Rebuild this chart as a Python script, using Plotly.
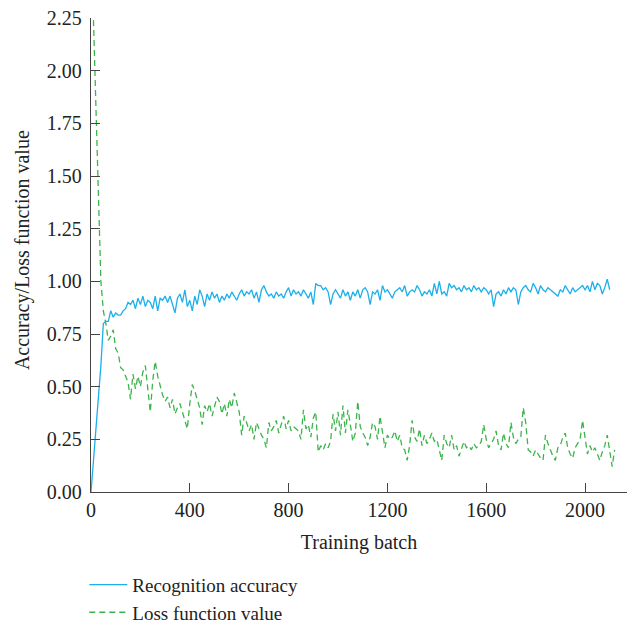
import plotly.graph_objects as go

# Training curves: recognition accuracy and loss, sampled every 10 batches
acc_batch = [0, 40] + list(range(50, 2101, 10))
acc_values = [
    0.00, 0.60,
    0.80, 0.81, 0.81, 0.86, 0.83, 0.85, 0.84, 0.84, 0.86, 0.87,
    0.90, 0.89, 0.91, 0.87, 0.92, 0.89, 0.93, 0.88, 0.91, 0.90,
    0.87, 0.93, 0.86, 0.92, 0.91, 0.93, 0.90, 0.93, 0.89, 0.85,
    0.92, 0.94, 0.90, 0.96, 0.88, 0.91, 0.86, 0.93, 0.89, 0.96,
    0.93, 0.88, 0.94, 0.91, 0.95, 0.92, 0.94, 0.90, 0.93, 0.91,
    0.94, 0.92, 0.95, 0.93, 0.91, 0.94, 0.96, 0.93, 0.95, 0.94,
    0.96, 0.92, 0.95, 0.90, 0.96, 0.98, 0.95, 0.93, 0.94, 0.92,
    0.95, 0.93, 0.94, 0.92, 0.95, 0.97, 0.93, 0.96, 0.94, 0.95,
    0.93, 0.96, 0.94, 0.92, 0.95, 0.89, 0.99, 0.98, 0.98, 0.96,
    0.97, 0.95, 0.89, 0.94, 0.96, 0.94, 0.92, 0.96, 0.93, 0.95,
    0.91, 0.95, 0.93, 0.96, 0.92, 0.96, 0.97, 0.95, 0.89, 0.95,
    0.94, 0.96, 0.91, 0.98, 0.95, 0.96, 0.94, 0.92, 0.95, 0.96,
    0.97, 0.95, 0.98, 0.93, 0.95, 0.96, 0.95, 0.98, 0.96, 0.93,
    0.95, 0.94, 0.96, 0.93, 0.99, 0.94, 1.00, 0.94, 0.95, 0.93,
    0.99, 0.97, 0.98, 0.96, 0.97, 0.95, 0.98, 0.96, 0.97, 0.95,
    0.98, 0.96, 0.97, 0.95, 0.97, 0.96, 0.94, 0.96, 0.88, 0.94,
    0.95, 0.93, 0.96, 0.94, 0.97, 0.95, 0.97, 0.96, 0.89, 0.95,
    0.97, 0.98, 0.96, 0.95, 0.99, 0.97, 0.94, 0.98, 0.96, 0.95,
    0.97, 0.96, 0.95, 0.94, 0.93, 0.96, 0.95, 0.98, 0.96, 0.94,
    0.97, 0.95, 0.96, 0.97, 0.98, 0.96, 0.98, 0.95, 1.00, 0.96,
    0.99, 0.98, 0.94, 0.97, 1.01, 0.96,
]

loss_batch = [10, 40] + list(range(50, 2121, 10))
loss_values = [
    2.24, 1.00,
    0.86, 0.80, 0.72, 0.74, 0.77, 0.68, 0.66, 0.59, 0.58, 0.55,
    0.52, 0.44, 0.56, 0.49, 0.55, 0.50, 0.57, 0.60, 0.48, 0.38,
    0.53, 0.62, 0.55, 0.50, 0.46, 0.43, 0.45, 0.40, 0.44, 0.37,
    0.40, 0.42, 0.38, 0.35, 0.30, 0.42, 0.51, 0.48, 0.44, 0.40,
    0.32, 0.41, 0.38, 0.42, 0.36, 0.40, 0.45, 0.43, 0.37, 0.42,
    0.36, 0.44, 0.40, 0.47, 0.42, 0.38, 0.27, 0.36, 0.33, 0.29,
    0.32, 0.25, 0.33, 0.30, 0.27, 0.25, 0.21, 0.33, 0.29, 0.31,
    0.34, 0.28, 0.32, 0.36, 0.30, 0.34, 0.29, 0.31, 0.30, 0.29,
    0.25, 0.39, 0.30, 0.32, 0.26, 0.35, 0.38, 0.19, 0.22, 0.20,
    0.23, 0.21, 0.24, 0.37, 0.29, 0.38, 0.27, 0.41, 0.28, 0.39,
    0.32, 0.24, 0.28, 0.43, 0.31, 0.28, 0.26, 0.22, 0.26, 0.33,
    0.31, 0.25, 0.36, 0.29, 0.21, 0.27, 0.25, 0.26, 0.29, 0.24,
    0.27, 0.21, 0.20, 0.15, 0.22, 0.34, 0.26, 0.24, 0.30, 0.22,
    0.27, 0.23, 0.25, 0.28, 0.24, 0.25, 0.20, 0.15, 0.27, 0.23,
    0.21, 0.27, 0.20, 0.22, 0.17, 0.21, 0.24, 0.21, 0.22, 0.20,
    0.23, 0.21, 0.22, 0.24, 0.32, 0.25, 0.21, 0.23, 0.25, 0.29,
    0.22, 0.20, 0.28, 0.23, 0.21, 0.33, 0.26, 0.23, 0.25, 0.26,
    0.40, 0.33, 0.20, 0.19, 0.17, 0.20, 0.18, 0.16, 0.15, 0.27,
    0.23, 0.20, 0.17, 0.15, 0.21, 0.22, 0.26, 0.28, 0.21, 0.18,
    0.16, 0.21, 0.23, 0.25, 0.34, 0.26, 0.18, 0.22, 0.19, 0.21,
    0.18, 0.15, 0.19, 0.22, 0.27, 0.19, 0.12, 0.20,
]

x_ticks = [0, 400, 800, 1200, 1600, 2000]
y_ticks = [0, 0.25, 0.5, 0.75, 1.0, 1.25, 1.5, 1.75, 2.0, 2.25]
y_title = "Accuracy/Loss function value"

FONT = "Liberation Serif"
AXIS = "#444444"
TEXT = "#222222"

fig = go.Figure()
fig.add_trace(go.Scatter(
    x=acc_batch, y=acc_values, mode="lines", name="Recognition accuracy",
    line=dict(color="#1BB0EA", width=1.3),
))
fig.add_trace(go.Scatter(
    x=loss_batch, y=loss_values, mode="lines", name="Loss function value",
    line=dict(color="#3CB44B", width=1.3, dash="6px,4px"),
))

# Vertical axis title placed as a rotated label left of the tick labels
fig.add_annotation(
    text=y_title, textangle=-90, showarrow=False,
    xref="paper", yref="paper", x=-0.129, y=0.51,
    xanchor="center", yanchor="middle",
    font=dict(family=FONT, size=20, color=TEXT),
)

fig.update_layout(
    width=629, height=623,
    margin=dict(l=91, r=2, t=18, b=131, autoexpand=False),
    paper_bgcolor="white", plot_bgcolor="white",
    font=dict(family=FONT, size=20, color=TEXT),
    showlegend=True,
    legend=dict(
        xref="container", yref="container",
        x=0.134, y=0.092, xanchor="left", yanchor="top",
        orientation="v", bgcolor="rgba(0,0,0,0)",
        font=dict(family=FONT, size=19, color=TEXT),
        itemwidth=38, tracegroupgap=0,
    ),
    xaxis=dict(
        range=[0, 2170], tickvals=x_ticks,
        showline=True, linecolor=AXIS, linewidth=1.3,
        ticks="inside", ticklen=9, tickwidth=1.3, tickcolor=AXIS,
        showgrid=False, zeroline=False,
        tickfont=dict(family=FONT, size=20, color=TEXT),
        title=dict(text="Training batch", standoff=14,
                   font=dict(family=FONT, size=20, color=TEXT)),
    ),
    yaxis=dict(
        range=[0, 2.25], tickvals=y_ticks, tickformat=".2f",
        showline=True, linecolor=AXIS, linewidth=1.3,
        ticks="inside", ticklen=9, tickwidth=1.3, tickcolor=AXIS,
        showgrid=False, zeroline=False, ticklabelstandoff=4,
        tickfont=dict(family=FONT, size=20, color=TEXT),
    ),
)

fig.write_html("out.html")
